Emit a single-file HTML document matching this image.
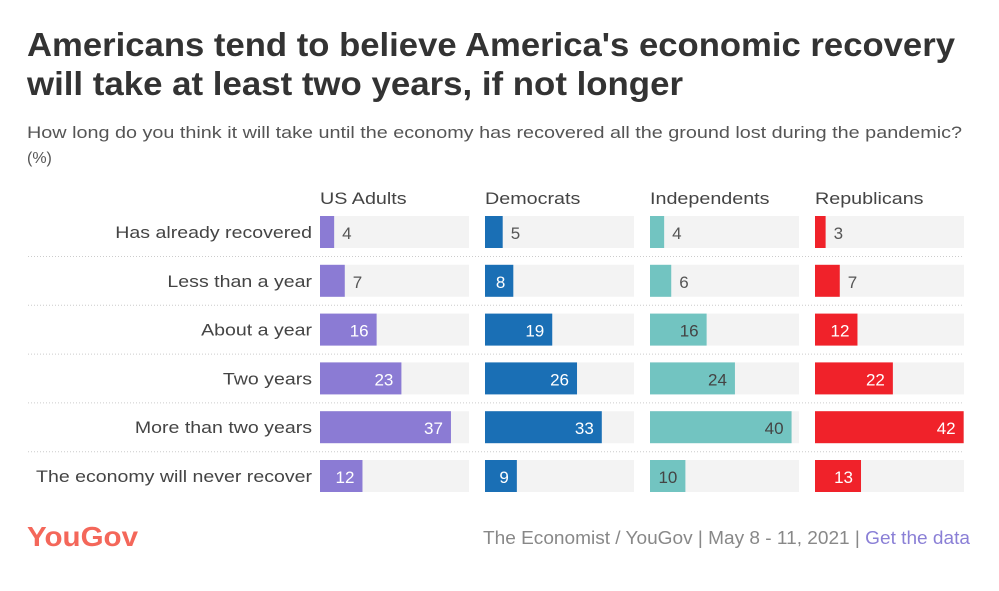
<!DOCTYPE html>
<html><head><meta charset="utf-8"><style>
body{margin:0;background:#fff;}
svg{display:block;font-family:"Liberation Sans",sans-serif;}
</style></head><body>
<svg id="chart" width="999" height="591" viewBox="0 0 999 591">
<text x="27" y="56" font-size="33" font-weight="bold" fill="#333" textLength="928" lengthAdjust="spacingAndGlyphs">Americans tend to believe America's economic recovery</text>
<text x="27" y="95" font-size="33" font-weight="bold" fill="#333" textLength="656" lengthAdjust="spacingAndGlyphs">will take at least two years, if not longer</text>
<text x="27" y="138" font-size="17" fill="#555" textLength="935" lengthAdjust="spacingAndGlyphs">How long do you think it will take until the economy has recovered all the ground lost during the pandemic?</text>
<text x="27" y="163" font-size="16" fill="#555">(%)</text>
<g id="plot"></g>
<text x="27" y="546" font-size="28" font-weight="bold" fill="#f4675a" textLength="111" lengthAdjust="spacingAndGlyphs">YouGov</text>
<text x="970" y="544" font-size="18" text-anchor="end" fill="#888" textLength="487" lengthAdjust="spacingAndGlyphs">The Economist / YouGov | May 8 - 11, 2021 | <tspan fill="#8a7fd6">Get the data</tspan></text>
</svg>
<script>
const categories=["Has already recovered","Less than a year","About a year","Two years","More than two years","The economy will never recover"];
const groups=["US Adults","Democrats","Independents","Republicans"];
const usAdults=[4,7,16,23,37,12];
const democrats=[5,8,19,26,33,9];
const independents=[4,6,16,24,40,10];
const republicans=[3,7,12,22,42,13];
const series=[usAdults,democrats,independents,republicans];
const colors=["#8b7bd4","#1a6fb5","#72c4c1","#f0222a"];
const insideText=["#fff","#fff","#444","#fff"];
const NS="http://www.w3.org/2000/svg";
const g=document.getElementById('plot');
const panelX=[320,485,650,815], panelW=149, maxV=42.1;
const x=v=>v*panelW/maxV;
const rowY=i=>216+i*48.8;
const barH=32;
function mk(t,a){const e=document.createElementNS(NS,t);for(const k in a)e.setAttribute(k,a[k]);g.appendChild(e);return e;}
function widen(t,r){const w=t.getComputedTextLength();t.setAttribute('textLength',w*r);t.setAttribute('lengthAdjust','spacingAndGlyphs');}
groups.forEach((n,j)=>{const t=mk('text',{x:panelX[j],y:204,'font-size':17,fill:'#444'});t.textContent=n;


widen(t,1.16);});
categories.forEach((c,i)=>{
 const y=rowY(i);
 const t=mk('text',{x:312,y:y+22,'font-size':17,fill:'#444','text-anchor':'end'});t.textContent=c;
 
 
 widen(t,1.15);
 if(i<categories.length-1){const l=mk('line',{x1:28,x2:963,y1:y+40.5,y2:y+40.5,stroke:'#ccc','stroke-dasharray':'1,2'});
 
 }
 series.forEach((s,j)=>{
  const bg=mk('rect',{x:panelX[j],y:y,width:panelW,height:barH,fill:'#f3f3f3'});
  
  
  const v=s[i];const w=x(v);
  const b=mk('rect',{x:panelX[j],y:y,width:w,height:barH,fill:colors[j]});
  
  
  const inside=v>=8;
  const lt=mk('text',{x:inside?panelX[j]+w-8:panelX[j]+w+8,y:y+23,'font-size':17,'text-anchor':inside?'end':'start',fill:inside?insideText[j]:'#555'});
  lt.textContent=v;
  
  
 });
});
</script>
</body></html>
